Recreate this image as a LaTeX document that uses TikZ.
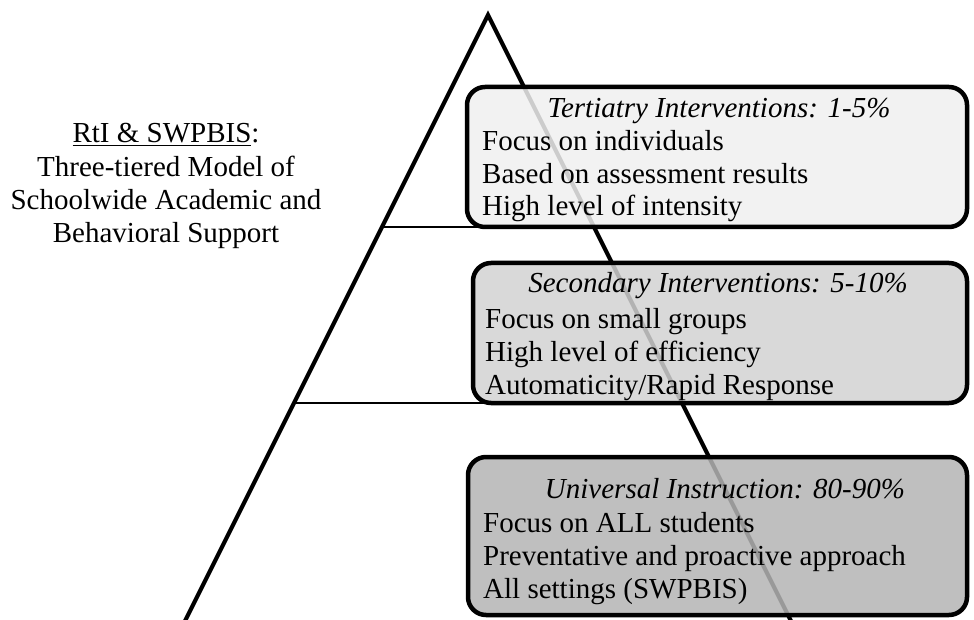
\documentclass[tikz,border=0pt]{standalone}
\usepackage{fontspec}
\setmainfont{Liberation Serif}
\usetikzlibrary{calc}
\definecolor{tierA}{gray}{0.94}
\definecolor{tierB}{gray}{0.825}
\definecolor{tierC}{gray}{0.705}
\tikzset{
  side/.style={line width=4.2pt, black},
  level/.style={line width=1.4pt, black},
  tierbox/.style={draw=black, line width=4.5pt, rounded corners=18pt, fill opacity=0.85},
  title/.style={anchor=base, inner sep=0pt, font=\fontsize{29}{33}\selectfont\itshape},
  item/.style={anchor=base west, inner sep=0pt, font=\fontsize{29}{33}\selectfont},
  lefttext/.style={anchor=base, inner sep=0pt, font=\fontsize{29}{33}\selectfont}
}
\begin{document}
\begin{tikzpicture}[x=1pt,y=-1pt]
\useasboundingbox (0,0) rectangle (974,620);
\clip (0,0) rectangle (974,620);
% pyramid
\coordinate (apex) at (488,15);
\coordinate (bl) at (183,625);
\coordinate (br) at (793,625);
\draw[side] (bl) -- (apex) -- (br);
% level lines
\coordinate (l1a) at ($(apex)!{(227-15)/610}!(bl)$);
\coordinate (l1b) at ($(apex)!{(227-15)/610}!(br)$);
\coordinate (l2a) at ($(apex)!{(403-15)/610}!(bl)$);
\coordinate (l2b) at ($(apex)!{(403-15)/610}!(br)$);
\draw[level] (l1a) -- (l1b);
\draw[level] (l2a) -- (l2b);
% boxes
\path[tierbox, fill=tierA] (467,87) rectangle (967,227);
\path[tierbox, fill=tierB] (473,263) rectangle (967,403);
\path[tierbox, fill=tierC] (468,457) rectangle (967,615);
% box texts
\node[title] (t1) at (719,118) {Tertiatry Interventions: 1-5\%};
\node[item] (t1a) at (482,151) {Focus on individuals};
\node[item] (t1b) at (482,184) {Based on assessment results};
\node[item] (t1c) at (482,216) {High level of intensity};
\node[title] (t2) at (718,293) {Secondary Interventions: 5-10\%};
\node[item] (t2a) at (485,328) {Focus on small groups};
\node[item] (t2b) at (485,361) {High level of efficiency};
\node[item] (t2c) at (485,394) {Automaticity/Rapid Response};
\node[title] (t3) at (725,498) {Universal Instruction: 80-90\%};
\node[item] (t3a) at (483,532) {Focus on ALL students};
\node[item] (t3b) at (483,565) {Preventative and proactive approach};
\node[item] (t3c) at (483,598) {All settings (SWPBIS)};
% left caption
\node[lefttext] (c1) at (166,143) {\underline{RtI \& SWPBIS}:};
\node[lefttext] (c2) at (166,177) {Three-tiered Model of};
\node[lefttext] (c3) at (166,210) {Schoolwide Academic and};
\node[lefttext] (c4) at (166,243) {Behavioral Support};
\end{tikzpicture}
\end{document}
